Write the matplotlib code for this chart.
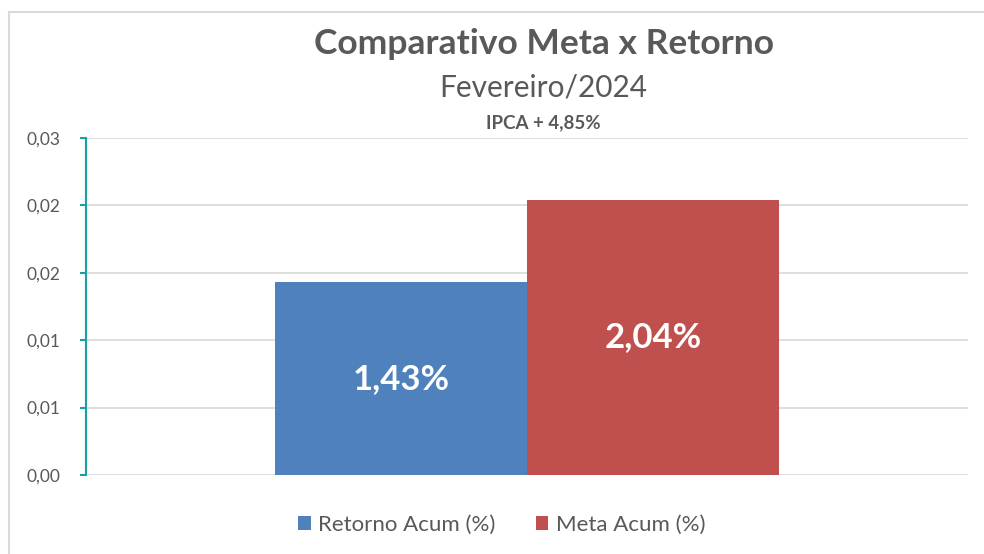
import matplotlib.pyplot as plt
from matplotlib.lines import Line2D

# data
series = ["Retorno Acum (%)", "Meta Acum (%)"]
values = [0.0143, 0.0204]
value_labels = ["1,43%", "2,04%"]
colors = ["#4F81BD", "#C0504D"]
y_ticks = [0.0, 0.005, 0.010, 0.015, 0.020, 0.025]
y_tick_labels = ["0,00", "0,01", "0,01", "0,02", "0,02", "0,03"]

plt.rcParams['font.family'] = ['Lato', 'DejaVu Sans']
gray = "#595959"
teal = "#17A2A2"

fig = plt.figure(figsize=(9.84, 5.54), dpi=100)
ax = fig.add_axes([86 / 984, 1 - 475 / 554, 882 / 984, 337 / 554])

width = 0.2857
offsets = [-width / 2, width / 2]
for name, v, lab, c, off in zip(series, values, value_labels, colors, offsets):
    ax.bar(off, v, width=width, color=c, label=name, zorder=3)
    ax.text(off, v / 2, lab, ha='center', va='center', color='white',
            fontsize=25, fontweight='bold', zorder=4)

ax.set_xlim(-0.5, 0.5)
ax.set_ylim(0, 0.025)
ax.set_yticks(y_ticks)
ax.set_yticklabels(y_tick_labels)
ax.set_xticks([])
ax.grid(axis='y', color='#D9D9D9', linewidth=1.2, zorder=0)
for s in ['top', 'right', 'bottom']:
    ax.spines[s].set_visible(False)
ax.spines['left'].set_color(teal)
ax.spines['left'].set_linewidth(1.5)
ax.tick_params(axis='y', colors=teal, labelcolor=gray, labelsize=12.5,
               length=4.5, width=1.5, pad=14)

# titles
fig.text(0.5525, 1 - 44 / 554, "Comparativo Meta x Retorno", ha='center', va='center',
         fontsize=25.5, fontweight='bold', color=gray)
fig.text(0.5525, 1 - 88 / 554, "Fevereiro/2024", ha='center', va='center',
         fontsize=21.5, color=gray)
fig.text(0.5525, 1 - 123 / 554, "IPCA + 4,85%", ha='center', va='center',
         fontsize=13.5, fontweight='bold', color=gray)

ax.legend(loc='center', bbox_to_anchor=(0.51, 1 - 525 / 554), bbox_transform=fig.transFigure,
          ncol=2, frameon=False, fontsize=16, labelcolor=gray, handlelength=0.55,
          handleheight=0.55, columnspacing=1.8, handletextpad=0.35)

# chart frame
fig.add_artist(Line2D([9 / 984, 1], [1 - 12 / 554, 1 - 12 / 554], color='#D9D9D9',
                      linewidth=1.5, transform=fig.transFigure))
fig.add_artist(Line2D([9 / 984, 9 / 984], [0, 1 - 12 / 554], color='#D9D9D9',
                      linewidth=1.5, transform=fig.transFigure))

fig.savefig("out.png", dpi=100)
